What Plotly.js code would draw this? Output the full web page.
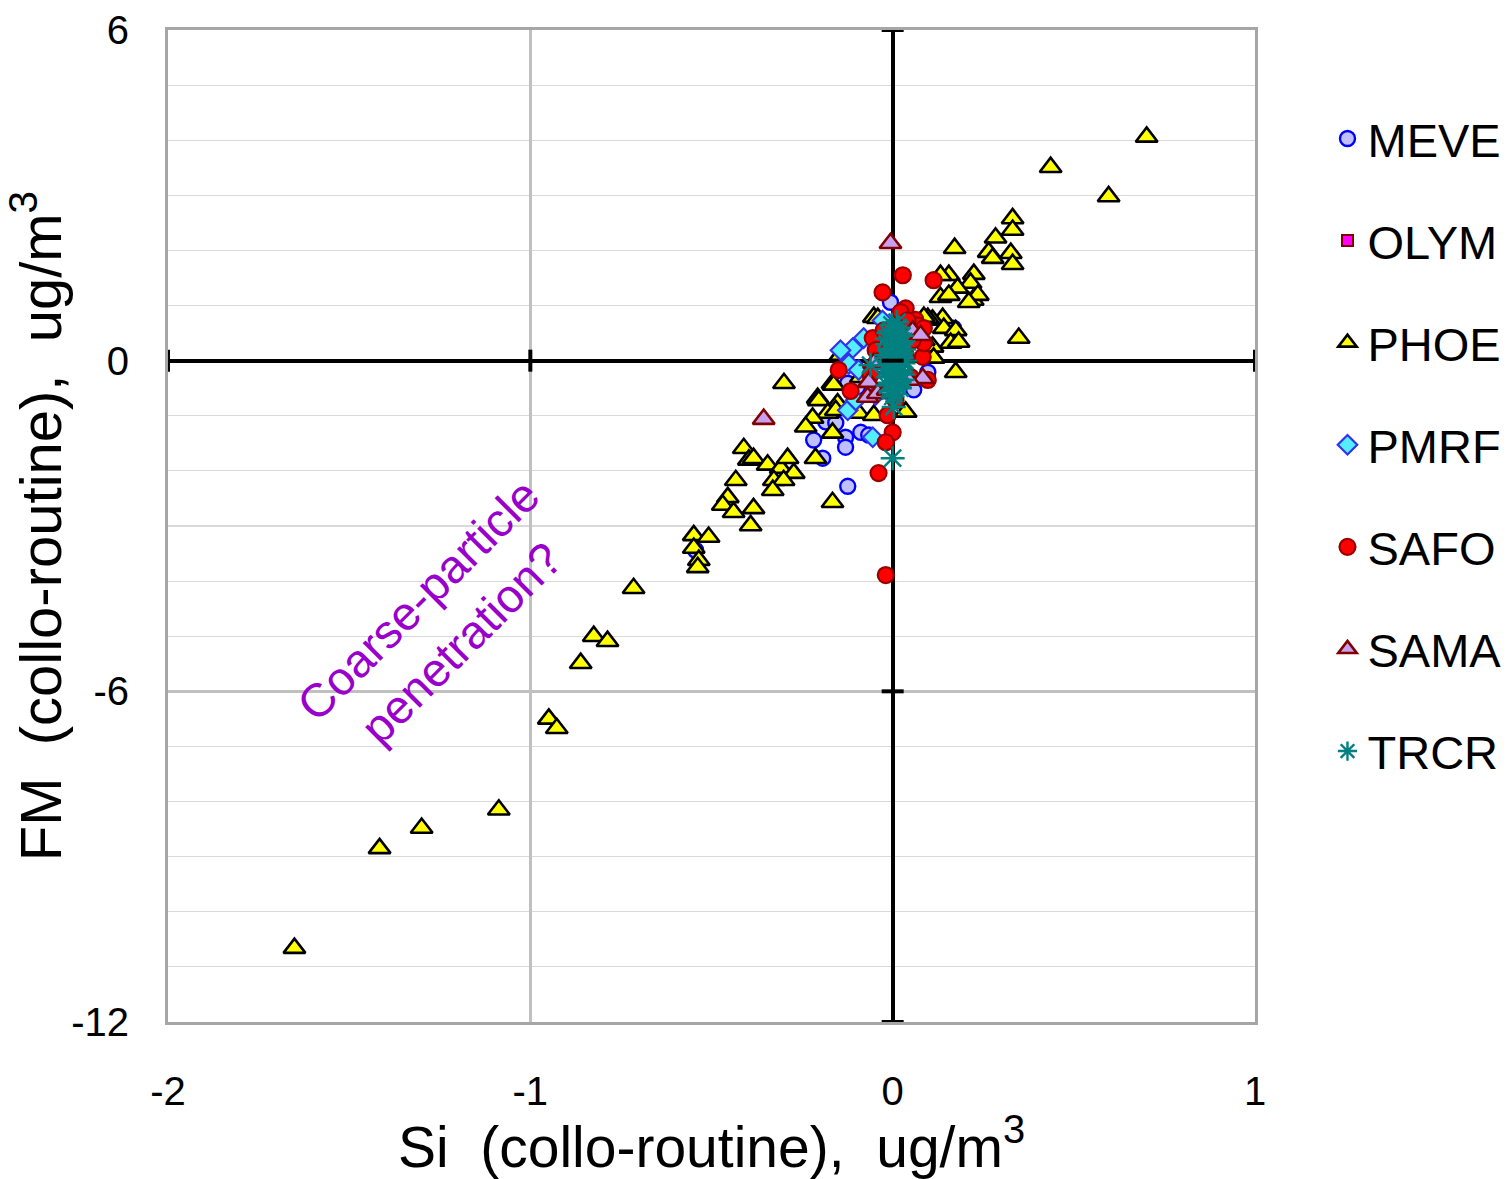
<!DOCTYPE html>
<html>
<head>
<meta charset="utf-8">
<script src="https://cdn.plot.ly/plotly-3.0.1.min.js"></script>
<style>
html,body{margin:0;padding:0;background:#fff;}
#chart{width:1508px;height:1179px;}
</style>
</head>
<body>
<div id="chart"></div>
<script>
// ---- Data (Si vs FM, collocated minus routine, ug/m3) ----
const seriesNames = ["MEVE","OLYM","PHOE","PMRF","SAFO","SAMA","TRCR"];

const meveX = [-0.006,0.168,0.058,0.097,-0.124,-0.097,-0.185,-0.218,-0.193,-0.130,-0.130,-0.088,-0.066,-0.124,-0.544,-0.157,-0.033,0.022];
const meveY = [1.06,0.59,-0.53,-0.21,-0.41,-0.48,-1.11,-1.44,-1.77,-1.39,-1.57,-1.30,-1.35,-2.28,-3.44,-1.13,-0.08,0.37];

const olymX = [0.005,-0.010,0.012];
const olymY = [0.10,-0.15,0.30];

const phoeX = [0.701,0.436,0.596,0.331,0.331,0.284,0.265,0.276,0.326,0.331,0.171,0.155,0.132,0.224,0.215,0.179,0.132,0.155,0.221,0.235,0.210,0.138,0.110,0.097,0.141,0.174,0.160,0.182,0.110,0.113,0.174,0.348,0.086,0.086,-0.052,
  -0.041,-0.144,-0.088,-0.166,-0.163,-0.207,-0.204,-0.152,-0.179,-0.157,-0.094,-0.052,0.036,-0.166,-0.221,-0.240,-0.213,-0.166,-0.300,
  -0.411,-0.397,-0.384,-0.345,-0.309,-0.290,-0.273,-0.328,-0.301,-0.331,-0.433,-0.455,-0.469,-0.439,-0.384,-0.392,
  -0.549,-0.508,-0.549,-0.535,-0.538,-0.715,-0.825,-0.787,-0.861,-0.949,-0.927,-1.087,-1.300,-1.416,-1.651];
const phoeY = [4.06,3.51,2.98,2.58,2.37,2.23,1.97,1.86,1.95,1.75,2.04,1.55,1.55,1.57,1.41,1.32,1.15,1.19,1.10,1.19,1.06,0.77,0.74,0.77,0.59,0.55,0.32,0.34,0.25,0.05,-0.21,0.41,0.79,0.37,0.79,
  0.77,0.10,-0.30,-0.41,-0.44,-0.68,-0.72,-0.78,-0.95,-0.90,-0.95,-0.99,-0.93,-1.31,-1.04,-1.20,-1.77,-2.57,-0.41,
  -1.59,-1.80,-1.77,-1.89,-1.95,-1.77,-2.04,-2.17,-2.17,-2.35,-2.17,-2.48,-2.62,-2.75,-2.68,-2.99,
  -3.17,-3.20,-3.40,-3.62,-3.75,-4.13,-5.00,-5.09,-5.49,-6.50,-6.67,-8.15,-8.48,-8.85,-10.66];

const pmrfX = [-0.028,-0.080,-0.110,-0.121,-0.124,-0.055,-0.047,-0.144,-0.102,-0.094];
const pmrfY = [0.73,0.41,0.23,-0.06,-0.90,-1.39,-0.62,0.19,-0.72,-0.17];

const safoX = [0.028,0.113,-0.028,0.036,0.022,0.063,0.069,0.041,0.083,-0.149,-0.116,0.000,-0.019,-0.039,-0.019,0.097,0.050,-0.055,-0.025,0.086,0.086,-0.014,0.008,-0.047,-0.033,0.036,0.022,-0.019,-0.061,0.055,0.008];
const safoY = [1.55,1.46,1.24,0.95,0.88,0.74,0.64,0.73,0.07,-0.17,-0.55,-1.30,-1.48,-2.04,-3.89,-0.35,-0.30,0.41,0.55,0.32,0.59,-0.99,-0.72,0.19,0.01,0.10,-0.35,-0.53,-0.26,0.37,0.64];

const samaX = [-0.006,-0.356,0.055,0.083,-0.066,-0.069,-0.041,-0.014,0.044,-0.052,0.077];
const samaY = [2.13,-1.06,0.54,-0.32,-0.39,-0.66,-0.59,-0.53,-0.35,-0.04,0.46];

const trcrX = [0.000,0.003,-0.061,-0.005,0.010,0.020,-0.015,0.000,0.015,0.025,-0.010,0.005,0.018,-0.020,0.008,0.028,-0.008,0.012,0.000,0.022,-0.018,0.004,0.016,-0.012,0.030,0.006,-0.004,0.020,0.010,-0.016,0.002,0.014,0.024,-0.006,0.008,0.032,0.018,
  -0.012,0.026,-0.002,0.012,0.034,-0.014,0.020,0.004,-0.008,0.028,0.016,-0.004,0.010,0.022,-0.018,0.006,0.030,0.000,0.014];
const trcrY = [-1.77,-0.84,-0.08,0.55,0.45,0.35,0.30,0.20,0.10,0.05,0.00,-0.10,-0.20,-0.15,-0.30,-0.25,-0.40,0.60,0.40,0.15,0.10,-0.05,0.25,-0.30,-0.05,0.05,0.15,-0.35,-0.45,0.40,-0.20,0.50,0.30,-0.55,0.35,0.20,-0.10,
  0.50,0.45,0.65,0.70,0.00,-0.45,-0.50,-0.60,0.20,-0.35,0.60,-0.25,0.28,-0.20,0.05,0.48,0.35,-0.65,-0.40];

const xTicks = [-2,-1,0,1];
const yTicks = [6,0,-6,-12];

// ---- Traces ----
function tr(name, x, y, marker){
  return {type:"scatter", mode:"markers", name:name, x:x, y:y, marker:marker,
          legendgroup:name, hoverinfo:"x+y+name"};
}
const traces = [
  tr(seriesNames[0], meveX, meveY, {symbol:"circle", size:15, color:"#c0c0ff", line:{color:"#0000ff", width:2.4}}),
  tr(seriesNames[1], olymX, olymY, {symbol:"square", size:11, color:"#ff00ff", line:{color:"#800000", width:2}}),
  tr(seriesNames[2], phoeX, phoeY, {symbol:"triangle-up", size:19, color:"#ffff00", line:{color:"#000000", width:2.6}}),
  tr(seriesNames[3], pmrfX, pmrfY, {symbol:"diamond", size:15, color:"#55eeff", line:{color:"#3333ee", width:2.2}}),
  tr(seriesNames[4], safoX, safoY, {symbol:"circle", size:16, color:"#ff0000", line:{color:"#990000", width:2.2}}),
  tr(seriesNames[5], samaX, samaY, {symbol:"triangle-up", size:19, color:"#c8a0f0", line:{color:"#800000", width:2.6}}),
  tr(seriesNames[6], trcrX, trcrY, {symbol:"asterisk-open", size:20, color:"#008080", line:{color:"#008080", width:2.4}})
];

// ---- Cross-axis tick marks (Excel-style on zero lines) ----
const shapes = [];
yTicks.forEach(v => {
  shapes.push({type:"line", xref:"x", yref:"y", xsizemode:"pixel", xanchor:0, x0:-11, x1:11, y0:v, y1:v,
               line:{color:"#000", width:4}});
});
xTicks.filter(v => v !== 0).forEach(v => {
  shapes.push({type:"line", xref:"x", yref:"y", ysizemode:"pixel", yanchor:0, y0:-11, y1:11, x0:v, x1:v,
               line:{color:"#000", width:4}});
});

const font = "Arial, 'Liberation Sans', sans-serif";
const layout = {
  width:1508, height:1179,
  margin:{l:168, r:253, t:30, b:157},
  paper_bgcolor:"#fff", plot_bgcolor:"#fff",
  font:{family:font, color:"#000"},
  showlegend:true,
  legend:{xref:"container", x:0.999, xanchor:"right", y:0.928, yanchor:"top", font:{size:47, family:font},
          tracegroupgap:38, traceorder:"grouped", itemwidth:30, bgcolor:"rgba(0,0,0,0)"},
  xaxis:{range:[-2,1], tickvals:xTicks, ticktext:xTicks.map(String), ticks:"",
         tickfont:{size:40}, ticklabelstandoff:32,
         showgrid:true, gridcolor:"#c0c0c0", gridwidth:3.5,
         zeroline:true, zerolinecolor:"#000", zerolinewidth:4,
         showline:true, mirror:true, linecolor:"#a6a6a6", linewidth:3,
         title:{text:"Si  (collo-routine),  ug/m<sup>3</sup>", font:{size:57}, standoff:0}},
  yaxis:{range:[-12,6], tickvals:yTicks, ticktext:yTicks.map(String), ticks:"",
         tickfont:{size:40}, ticklabelstandoff:28,
         showgrid:true, gridcolor:"#c0c0c0", gridwidth:3.5,
         minor:{dtick:1, showgrid:true, gridcolor:"#d9d9d9", gridwidth:1.2, ticks:""},
         zeroline:true, zerolinecolor:"#000", zerolinewidth:4,
         showline:true, mirror:true, linecolor:"#a6a6a6", linewidth:3,
         title:{text:"FM  (collo-routine),  ug/m<sup>3</sup>", font:{size:58}, standoff:8}},
  shapes:shapes,
  annotations:[{x:-1.25, y:-4.72, xref:"x", yref:"y", text:"Coarse-particle<br>penetration?",
                showarrow:false, textangle:-45, font:{size:47, color:"#9900cc", family:font}}]
};

Plotly.newPlot("chart", traces, layout, {displayModeBar:false, staticPlot:true});
</script>
</body>
</html>
